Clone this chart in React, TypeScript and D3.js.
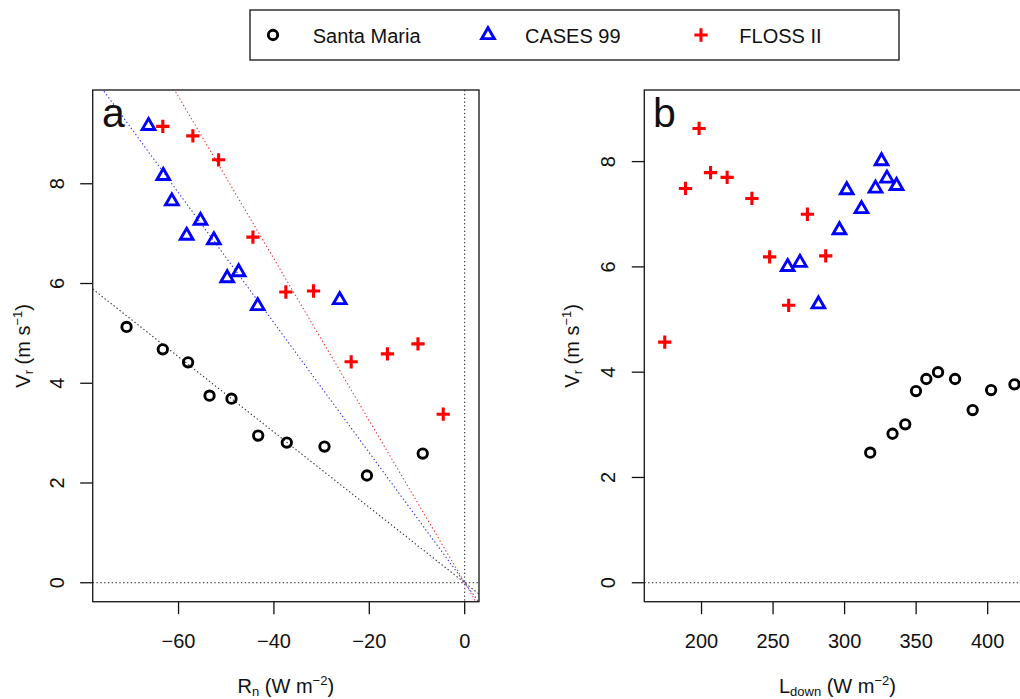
import React from "react";
import * as d3 from "d3";

// ---- data ----
// Panel a: radial velocity Vr against net radiation Rn
const santaMariaRn = [-70.9, -63.3, -58.0, -53.5, -48.9, -43.3, -37.3, -29.4, -20.5, -8.8];
const santaMariaVrA = [5.13, 4.68, 4.42, 3.75, 3.69, 2.95, 2.81, 2.73, 2.15, 2.59];
const cases99Rn = [-66.3, -63.2, -61.4, -58.3, -55.4, -52.6, -49.8, -47.4, -43.4, -26.2];
const cases99VrA = [9.16, 8.16, 7.65, 6.96, 7.26, 6.87, 6.11, 6.23, 5.55, 5.67];
const flossRn = [-63.3, -57.0, -51.6, -44.4, -37.5, -31.7, -23.8, -16.2, -9.8, -4.5];
const flossVrA = [9.15, 8.96, 8.48, 6.93, 5.83, 5.85, 4.43, 4.59, 4.79, 3.38];

// Fitted slopes of Vr on Rn (lines through the origin)
const slopeSantaMaria = -0.0755;
const slopeCases99 = -0.1303;
const slopeFloss = -0.1624;

// Panel b: Vr against downwelling longwave radiation
const santaMariaLdown = [317.9, 333.5, 342.4, 349.9, 357.1, 365.3, 377.2, 389.5, 402.4, 418.7];
const santaMariaVrB = [2.47, 2.83, 3.01, 3.64, 3.87, 4.0, 3.87, 3.28, 3.66, 3.77];
const cases99Ldown = [325.8, 329.6, 336.3, 321.6, 301.5, 311.8, 296.4, 260.2, 268.8, 281.7];
const cases99VrB = [8.01, 7.68, 7.54, 7.49, 7.46, 7.1, 6.7, 6.0, 6.08, 5.29];
const flossLdown = [198.3, 188.8, 206.3, 217.9, 235.2, 274.0, 247.6, 286.8, 260.9, 174.3];
const flossVrB = [8.63, 7.49, 7.79, 7.7, 7.3, 7.0, 6.19, 6.21, 5.27, 4.57];

const xTicksA = [-60, -40, -20, 0];
const xTicksB = [200, 250, 300, 350, 400];
const yTicksA = [0, 2, 4, 6, 8];
const yTicksB = [0, 2, 4, 6, 8];

const seriesNames = ["Santa Maria", "CASES 99", "FLOSS II"];
const seriesColors = ["#000000", "#0000ff", "#ff0000"];

// ---- layout ----
const W = 1020;
const H = 699;
const FONT = "'Liberation Sans', Arial, Helvetica, sans-serif";
const FS = 20;
const TICK = 12.5;
const TOP = 90;
const BOTTOM = 601.7;

const xA = d3.scaleLinear().domain([-78, 3]).range([92.7, 479]);
const yA = d3.scaleLinear().domain([-0.38, 9.88]).range([BOTTOM, TOP]);
const xB = d3.scaleLinear().domain([160, 430]).range([644.3, 1030.6]);
const yB = d3.scaleLinear().domain([-0.36, 9.36]).range([BOTTOM, TOP]);

// ---- markers (R-style pch 1, 2, 3) ----
const RAD = 4.7;
const LW = 2.9;

function Circle({ x, y }: { x: number; y: number }) {
  return <circle cx={x} cy={y} r={RAD} fill="none" stroke={seriesColors[0]} strokeWidth={LW} />;
}
function Triangle({ x, y }: { x: number; y: number }) {
  const r = 1.5551 * RAD;
  const h = 1.3468 * RAD;
  const yc = 0.7776 * RAD;
  const d = `M${x},${y - r}L${x + h},${y + yc}L${x - h},${y + yc}Z`;
  return <path d={d} fill="none" stroke={seriesColors[1]} strokeWidth={LW} strokeLinejoin="miter" />;
}
function Plus({ x, y }: { x: number; y: number }) {
  const h = 1.4142 * RAD;
  const d = `M${x - h},${y}H${x + h}M${x},${y - h}V${y + h}`;
  return <path d={d} fill="none" stroke={seriesColors[2]} strokeWidth={3.1} />;
}

type Scale = d3.ScaleLinear<number, number>;

function Axes({
  x,
  y,
  xTicks,
  yTicks,
  xTitle,
  yTitleX,
}: {
  x: Scale;
  y: Scale;
  xTicks: number[];
  yTicks: number[];
  xTitle: React.ReactNode;
  yTitleX: number;
}) {
  const [x0, x1] = x.range();
  const fmt = (v: number) => (v < 0 ? "\u2212" + Math.abs(v) : String(v));
  return (
    <g fontFamily={FONT} fontSize={FS} fill="#111">
      {/* bottom axis */}
      {xTicks.map((t) => (
        <g key={"xt" + t}>
          <line x1={x(t)} x2={x(t)} y1={BOTTOM} y2={BOTTOM + TICK} stroke="#111" strokeWidth={1.3} />
          <text x={x(t)} y={648} textAnchor="middle">
            {fmt(t)}
          </text>
        </g>
      ))}
      {/* left axis */}
      {yTicks.map((t) => (
        <g key={"yt" + t}>
          <line x1={x0 - TICK} x2={x0} y1={y(t)} y2={y(t)} stroke="#111" strokeWidth={1.3} />
          <text transform={`translate(${x0 - 29},${y(t)}) rotate(-90)`} textAnchor="middle">
            {fmt(t)}
          </text>
        </g>
      ))}
      {/* titles */}
      <text x={(x0 + x1) / 2} y={693} textAnchor="middle">
        {xTitle}
      </text>
      <text transform={`translate(${yTitleX},${(TOP + BOTTOM) / 2}) rotate(-90)`} textAnchor="middle">
        <tspan>V</tspan>
        <tspan fontSize={13} dy={3}>r</tspan>
        <tspan dy={-3}> (m s</tspan>
        <tspan fontSize={13} dy={-8}>{"\u22121"}</tspan>
        <tspan dy={8}>)</tspan>
      </text>
      {/* frame */}
      <rect x={x0} y={TOP} width={x1 - x0} height={BOTTOM - TOP} fill="none" stroke="#222" strokeWidth={1.4} />
    </g>
  );
}

export default function App() {
  const regLine = (slope: number) => {
    const xs = xA.domain();
    return { x1: xA(xs[0]), y1: yA(slope * xs[0]), x2: xA(xs[1]), y2: yA(slope * xs[1]) };
  };
  const regs = [slopeSantaMaria, slopeCases99, slopeFloss];
  const dots = "1.4 2.4";

  return (
    <svg
      width={W}
      height={H}
      viewBox={`0 0 ${W} ${H}`}
      style={{ position: "absolute", left: 0, top: 0, background: "#fff" }}
    >
      <defs>
        <clipPath id="clipA">
          <rect x={xA.range()[0]} y={TOP} width={xA.range()[1] - xA.range()[0]} height={BOTTOM - TOP} />
        </clipPath>
        <clipPath id="clipB">
          <rect x={xB.range()[0]} y={TOP} width={xB.range()[1] - xB.range()[0]} height={BOTTOM - TOP} />
        </clipPath>
      </defs>

      {/* legend */}
      <g fontFamily={FONT} fontSize={FS} fill="#111">
        <rect x={250} y={10} width={649} height={50} fill="#fff" stroke="#222" strokeWidth={1.4} />
        <Circle x={273} y={35} />
        <text x={312.7} y={42.5}>{seriesNames[0]}</text>
        <Triangle x={488} y={35} />
        <text x={525} y={42.5}>{seriesNames[1]}</text>
        <Plus x={701} y={35} />
        <text x={739.3} y={42.5}>{seriesNames[2]}</text>
      </g>

      {/* panel a */}
      <g clipPath="url(#clipA)">
        <line x1={xA.range()[0]} x2={xA.range()[1]} y1={yA(0)} y2={yA(0)} stroke="#222" strokeWidth={1} strokeDasharray={dots} />
        <line x1={xA(0)} x2={xA(0)} y1={TOP} y2={BOTTOM} stroke="#222" strokeWidth={1} strokeDasharray={dots} />
        {regs.map((s, i) => {
          const l = regLine(s);
          return (
            <line key={"reg" + i} {...l} stroke={seriesColors[i]} strokeOpacity={0.8} strokeWidth={1.1} strokeDasharray={dots} />
          );
        })}
        {santaMariaRn.map((v, i) => (
          <Circle key={"sa" + i} x={xA(v)} y={yA(santaMariaVrA[i])} />
        ))}
        {cases99Rn.map((v, i) => (
          <Triangle key={"ca" + i} x={xA(v)} y={yA(cases99VrA[i])} />
        ))}
        {flossRn.map((v, i) => (
          <Plus key={"fa" + i} x={xA(v)} y={yA(flossVrA[i])} />
        ))}
      </g>
      <text x={102} y={127} fontFamily={FONT} fontSize={41} fill="#111">a</text>
      <Axes
        x={xA}
        y={yA}
        xTicks={xTicksA}
        yTicks={yTicksA}
        yTitleX={30}
        xTitle={
          <>
            <tspan>R</tspan>
            <tspan fontSize={13} dy={3}>n</tspan>
            <tspan dy={-3}> (W m</tspan>
            <tspan fontSize={13} dy={-8}>{"\u22122"}</tspan>
            <tspan dy={8}>)</tspan>
          </>
        }
      />

      {/* panel b */}
      <g clipPath="url(#clipB)">
        <line x1={xB.range()[0]} x2={xB.range()[1]} y1={yB(0)} y2={yB(0)} stroke="#222" strokeWidth={1} strokeDasharray={dots} />
        {santaMariaLdown.map((v, i) => (
          <Circle key={"sb" + i} x={xB(v)} y={yB(santaMariaVrB[i])} />
        ))}
        {cases99Ldown.map((v, i) => (
          <Triangle key={"cb" + i} x={xB(v)} y={yB(cases99VrB[i])} />
        ))}
        {flossLdown.map((v, i) => (
          <Plus key={"fb" + i} x={xB(v)} y={yB(flossVrB[i])} />
        ))}
      </g>
      <text x={653} y={127} fontFamily={FONT} fontSize={41} fill="#111">b</text>
      <Axes
        x={xB}
        y={yB}
        xTicks={xTicksB}
        yTicks={yTicksB}
        yTitleX={579}
        xTitle={
          <>
            <tspan>L</tspan>
            <tspan fontSize={13} dy={3}>down</tspan>
            <tspan dy={-3}> (W m</tspan>
            <tspan fontSize={13} dy={-8}>{"\u22122"}</tspan>
            <tspan dy={8}>)</tspan>
          </>
        }
      />
    </svg>
  );
}
